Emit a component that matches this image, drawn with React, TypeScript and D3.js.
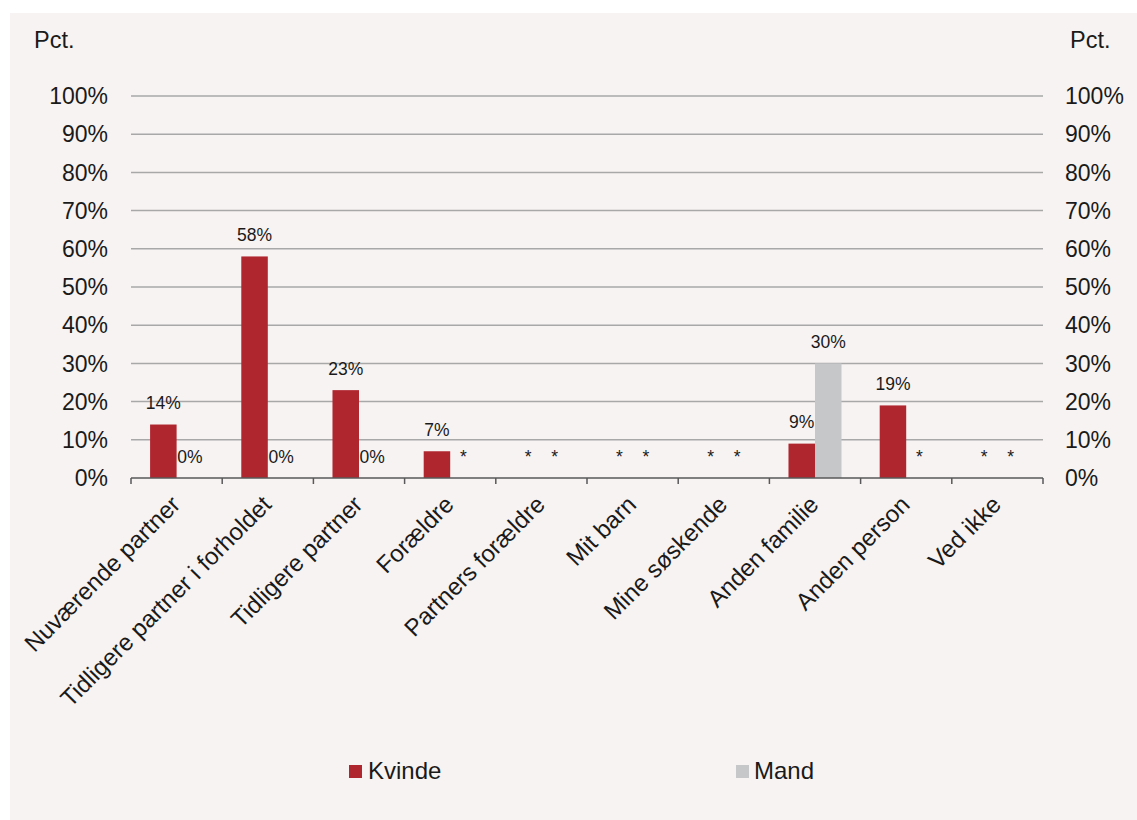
import React from "react";
import * as d3 from "d3";

const categories = [
  "Nuværende partner",
  "Tidligere partner i forholdet",
  "Tidligere partner",
  "Forældre",
  "Partners forældre",
  "Mit barn",
  "Mine søskende",
  "Anden familie",
  "Anden person",
  "Ved ikke",
];
const seriesNames = ["Kvinde", "Mand"];
// null = not reported (shown as "*")
const kvinde: (number | null)[] = [14, 58, 23, 7, null, null, null, 9, 19, null];
const mand: (number | null)[] = [0, 0, 0, null, null, null, null, 30, null, null];
const yTicks = [0, 10, 20, 30, 40, 50, 60, 70, 80, 90, 100];
const colors: Record<string, string> = { Kvinde: "#b0262f", Mand: "#c6c7c9" };

const FONT = "'Liberation Sans', Arial, Helvetica, sans-serif";

export default function App() {
  const W = 1137, H = 820;
  const left = 131, right = 1043, top = 96, bottom = 478;
  const x0 = d3.scaleBand<string>().domain(categories).range([left, right]).paddingInner(0).paddingOuter(0);
  const x1 = d3.scaleBand<string>().domain(seriesNames).range([0, x0.bandwidth()]).paddingInner(0).paddingOuter(0.72);
  const y = d3.scaleLinear().domain([0, 100]).range([bottom, top]);
  const seriesData: Record<string, (number | null)[]> = { Kvinde: kvinde, Mand: mand };
  const bw = x1.bandwidth();

  const tickXs = categories.map((c) => x0(c)!).concat([right]);

  return (
    <svg width={W} height={H} style={{ position: "absolute", left: 0, top: 0, display: "block" }} fontFamily={FONT}>
      <rect x={0} y={0} width={W} height={H} fill="#ffffff" />
      <rect x={10} y={13} width={W - 10} height={H - 13} fill="#f7f3f2" />

      {/* gridlines */}
      {yTicks.filter((t) => t > 0).map((t) => (
        <line key={t} x1={left} x2={right} y1={y(t)} y2={y(t)} stroke="#a8a8a8" strokeWidth={1.5} />
      ))}

      {/* y tick labels left & right */}
      {yTicks.map((t) => (
        <g key={"yl" + t}>
          <text x={108} y={y(t)} dy="0.36em" textAnchor="end" fontSize={23} fill="#1a1a1a">{t}%</text>
          <text x={1065} y={y(t)} dy="0.36em" textAnchor="start" fontSize={23} fill="#1a1a1a">{t}%</text>
        </g>
      ))}
      <text x={34} y={48} fontSize={23.5} fill="#1a1a1a">Pct.</text>
      <text x={1070} y={48} fontSize={23.5} fill="#1a1a1a">Pct.</text>

      {/* bars */}
      {categories.map((c, i) => (
        <g key={c} transform={`translate(${x0(c)},0)`}>
          {seriesNames.map((s) => {
            const v = seriesData[s][i];
            const cx = x1(s)! + bw / 2;
            return (
              <g key={s}>
                {v !== null && v > 0 && (
                  <rect x={x1(s)} y={y(v)} width={bw} height={y(0) - y(v)} fill={colors[s]} />
                )}
                <text x={cx} y={y(v ?? 0) - 15.5} textAnchor="middle" fontSize={17.5} fill="#1a1a1a">
                  {v === null ? "*" : `${v}%`}
                </text>
              </g>
            );
          })}
        </g>
      ))}

      {/* x axis */}
      <line x1={left} x2={right} y1={bottom} y2={bottom} stroke="#595959" strokeWidth={1.5} />
      {tickXs.map((tx, i) => (
        <line key={"t" + i} x1={tx} x2={tx} y1={bottom} y2={bottom + 6} stroke="#595959" strokeWidth={1.5} />
      ))}
      {categories.map((c) => (
        <text
          key={"xl" + c}
          transform={`translate(${x0(c)! + x0.bandwidth() / 2 + 5},${506}) rotate(-45)`}
          textAnchor="end"
          fontSize={24}
          fill="#1a1a1a"
        >
          {c}
        </text>
      ))}

      {/* legend */}
      <rect x={349} y={765} width={13} height={13} fill={colors.Kvinde} />
      <text x={368} y={779} fontSize={24} fill="#1a1a1a">Kvinde</text>
      <rect x={736} y={765} width={13} height={13} fill={colors.Mand} />
      <text x={754} y={779} fontSize={24} fill="#1a1a1a">Mand</text>
    </svg>
  );
}
